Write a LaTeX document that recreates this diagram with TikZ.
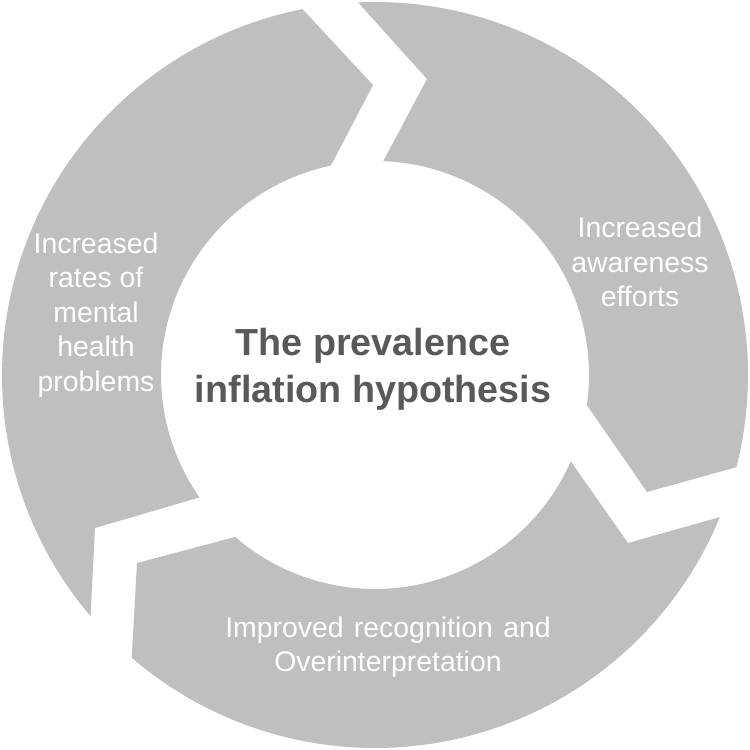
\documentclass[tikz,border=0pt]{standalone}
\usepackage{fontspec}
\setmainfont{Liberation Sans}
\definecolor{seg}{HTML}{BFBFBF}
\definecolor{ttl}{HTML}{595959}
\tikzset{
  segment/.style={fill=seg,draw=none},
  lab/.style={text=white,align=center,font=\fontsize{28.4}{34.5}\selectfont,inner sep=0pt},
  titlelab/.style={text=ttl,align=center,font=\fontsize{37.7}{47}\selectfont\bfseries,inner sep=0pt}
}
\begin{document}
\begin{tikzpicture}[x=1pt,y=1pt]
\useasboundingbox (0,0) rectangle (750,750);
\coordinate (c) at (375,375);
% right segment
\fill[segment] ([shift={(92.6:373)}]c) arc[start angle=92.6,end angle=-14.3,radius=373]
  -- (647,258) -- ([shift={(-8.1:214)}]c) arc[start angle=-8.1,end angle=87.8,radius=214]
  -- (427,671) -- cycle;
% bottom segment
\fill[segment] ([shift={(-22.4:373)}]c) arc[start angle=-22.4,end angle=-130.7,radius=373]
  -- (137,187) -- ([shift={(-130.8:214)}]c) arc[start angle=-130.8,end angle=-23.8,radius=214]
  -- (628,207) -- cycle;
% left segment
\fill[segment] ([shift={(220.3:373)}]c) arc[start angle=220.3,end angle=101.2,radius=373]
  -- (373,665) -- ([shift={(101.9:214)}]c) arc[start angle=101.9,end angle=214.9,radius=214]
  -- (95,222) -- cycle;
\node[titlelab] (title) at (373,381) {The prevalence\\inflation hypothesis};
\node[lab] (a) at (640,488) {Increased\\awareness\\efforts};
\node[lab] (b) at (388,103) {Improved\hspace{2.5pt} recognition\hspace{2.5pt} and\\Overinterpretation};
\node[lab] (d) at (96,435) {Increased\\rates of\\mental\\health\\problems};
\end{tikzpicture}
\end{document}
